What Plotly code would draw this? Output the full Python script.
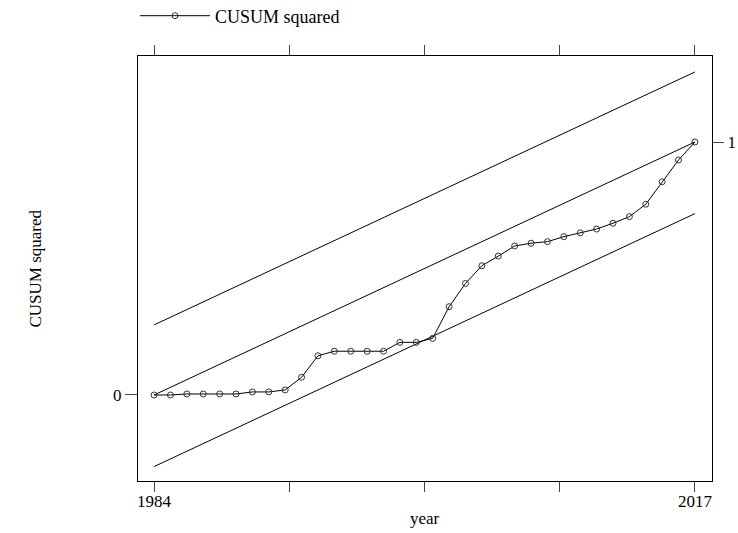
import plotly.graph_objects as go

years = list(range(1984, 2018))
cusum_sq = [0.0, 0.0, 0.004, 0.004, 0.004, 0.004, 0.012, 0.012, 0.02, 0.07,
            0.155, 0.173, 0.173, 0.173, 0.173, 0.208, 0.208, 0.224, 0.349, 0.441,
            0.511, 0.549, 0.589, 0.600, 0.606, 0.626, 0.641, 0.656, 0.679, 0.705,
            0.754, 0.843, 0.929, 1.0]
line_x = [1984, 2017]
expected = [0.0, 1.0]
upper_bound = [0.277, 1.277]
lower_bound = [-0.283, 0.717]

x_ticks = [1984, 1992.25, 2000.5, 2008.75, 2017]
x_tick_text = ["1984", "", "", "", "2017"]

FAM = "Liberation Serif, Times New Roman, serif"
font = dict(family=FAM, size=17, color="black")

fig = go.Figure()
for yy in (upper_bound, expected, lower_bound):
    fig.add_trace(go.Scatter(x=line_x, y=yy, mode="lines",
                             line=dict(color="black", width=1), showlegend=False,
                             hoverinfo="skip"))
fig.add_trace(go.Scatter(x=years, y=cusum_sq, mode="lines+markers", name="CUSUM squared",
                         line=dict(color="black", width=1),
                         marker=dict(symbol="circle-open", size=6, color="#333333",
                                     line=dict(width=1))))
fig.add_trace(go.Scatter(x=[1984], y=[0], yaxis="y2", mode="markers",
                         marker=dict(opacity=0), showlegend=False, hoverinfo="skip"))

yr = [-0.34, 1.34]
fig.update_layout(
    width=738, height=533,
    margin=dict(l=138, r=26, t=56, b=52, autoexpand=False),
    paper_bgcolor="white", plot_bgcolor="white",
    font=font,
    showlegend=True,
    legend=dict(orientation="h", xref="container", yref="container",
                x=135 / 738, xanchor="left", y=1 - 16 / 533, yanchor="middle",
                itemwidth=70, font=dict(family=FAM, size=18, color="black"),
                bgcolor="rgba(0,0,0,0)"),
    xaxis=dict(range=[1983.02, 2018.04], tickvals=x_ticks, ticktext=x_tick_text,
               ticks="outside", ticklen=10, tickcolor="#444", showline=True,
               linecolor="black", linewidth=1, mirror="ticks", showgrid=False,
               zeroline=False, tickfont=font, ticklabelstandoff=-5),
    yaxis=dict(range=yr, tickvals=[0], ticktext=["0"], ticks="outside", ticklen=12,
               tickcolor="#444", showline=True, linecolor="black", linewidth=1,
               showgrid=False, zeroline=False, tickfont=font),
    yaxis2=dict(range=yr, overlaying="y", side="right", tickvals=[1], ticktext=["1"],
                ticks="outside", ticklen=11, tickcolor="#444", showline=True,
                linecolor="black", linewidth=1, showgrid=False, zeroline=False,
                tickfont=font),
    annotations=[
        dict(text="CUSUM squared", xref="paper", yref="paper", x=(35 - 138) / 574,
             y=0.5, textangle=-90, showarrow=False, xanchor="center", yanchor="middle",
             font=font),
        dict(text="year", xref="paper", yref="paper", x=0.5, y=(481 - 518) / 425,
             showarrow=False, xanchor="center", yanchor="middle", font=font),
    ],
)
fig.write_html("out.html", config={"displayModeBar": False},
               post_script="document.body.style.margin='0';document.body.style.overflow='hidden';")
